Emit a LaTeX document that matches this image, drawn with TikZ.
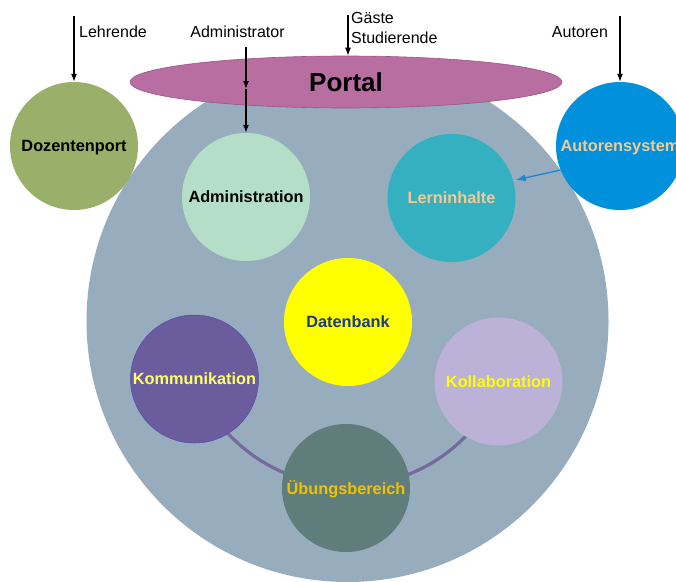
\documentclass[tikz,border=0pt]{standalone}
\usepackage{fontspec}
\setmainfont{Liberation Sans}
\usetikzlibrary{shapes.geometric,arrows.meta,backgrounds}
\definecolor{bigc}{HTML}{97ADBD}
\definecolor{portalc}{HTML}{B96EA2}
\definecolor{portald}{HTML}{9C5489}
\definecolor{dozc}{HTML}{9AAF6A}
\definecolor{adminc}{HTML}{B4DEC7}
\definecolor{lernc}{HTML}{35B0C1}
\definecolor{autc}{HTML}{0090DC}
\definecolor{datc}{HTML}{FFFF00}
\definecolor{dattext}{HTML}{1A3A8A}
\definecolor{kommc}{HTML}{6B5C9E}
\definecolor{kommtext}{HTML}{FFFF66}
\definecolor{kollc}{HTML}{BCB1D6}
\definecolor{kolltext}{HTML}{FFFF00}
\definecolor{uebc}{HTML}{5F7E7B}
\definecolor{uebtext}{HTML}{F2C200}
\definecolor{wheat}{HTML}{F7C98E}
\definecolor{arcc}{HTML}{76699B}
\definecolor{bluearr}{HTML}{1A87D5}
\begin{document}
\begin{tikzpicture}[x=1pt,y=-1pt,
  comp/.style={circle, minimum size=128pt, inner sep=0pt, text depth=0pt,
    font=\fontsize{16.3}{19}\selectfont\bfseries},
  lbl/.style={inner sep=0pt, font=\fontsize{16}{19.5}\selectfont},
  arr/.style={draw=black, line width=1.2pt, -{Latex[length=8pt,width=6pt]}}
]
\useasboundingbox (0,0) rectangle (676,581);

% portal
\node[ellipse, minimum width=432pt, minimum height=52pt, inner sep=0pt,
  fill=portalc, draw=portald, line width=0.6pt,
  font=\fontsize{26}{30}\selectfont\bfseries] (portal) at (346,82) {Portal};

% components
\node[comp, fill=dozc, text=black] (doz) at (74,146) {Dozentenport};
\node[comp, fill=autc, text=wheat] (aut) at (620,146) {Autorensystem};
\node[comp, fill=adminc, text=black] (admin) at (246,197) {Administration};
\node[comp, fill=lernc, text=wheat] (lern) at (451.5,198) {Lerninhalte};
\node[comp, fill=datc, text=dattext] (dat) at (348,322) {Datenbank};
\node[comp, fill=kommc, draw=kommc!80!blue, line width=0.5pt, text=kommtext] (komm) at (194.5,379) {Kommunikation};
\node[comp, fill=kollc, text=kolltext] (koll) at (498.5,381.5) {Kollaboration};
\node[comp, fill=uebc, text=uebtext] (ueb) at (346,488) {Übungsbereich};

\begin{scope}[on background layer]
  \node[circle, minimum size=522pt, inner sep=0pt, fill=bigc] (lms) at (347.5,321) {};
  \draw[arcc, line width=3.2pt] (komm.center) arc[start angle=159.6, end angle=21.6, radius=164];
\end{scope}

% labels
\node[lbl, anchor=west] (lehr) at (79,32) {Lehrende};
\node[lbl] (admtext) at (237.5,32) {Administrator};
\node[lbl, anchor=west, align=left] (gast) at (351,28) {Gäste\\Studierende};
\node[lbl] (autoren) at (580,32) {Autoren};

% arrows
\coordinate (lehrtop) at (74,16);
\draw[arr] (lehrtop) -- (doz.north);
\coordinate (admtop) at (246,47);
\coordinate (admmid) at (246,89);
\draw[arr] (admtop) -- (admmid);
\draw[arr] (admmid) -- (admin.north);
\coordinate (gasttop) at (348,15);
\draw[arr] (gasttop) -- (gasttop |- portal.north);
\coordinate (auttop) at (620,16);
\draw[arr] (auttop) -- (aut.north);
\draw[bluearr, line width=1.3pt, -{Latex[length=10pt,width=7pt]}] (aut.202) -- (lern.east |- 0,180);
\end{tikzpicture}
\end{document}
